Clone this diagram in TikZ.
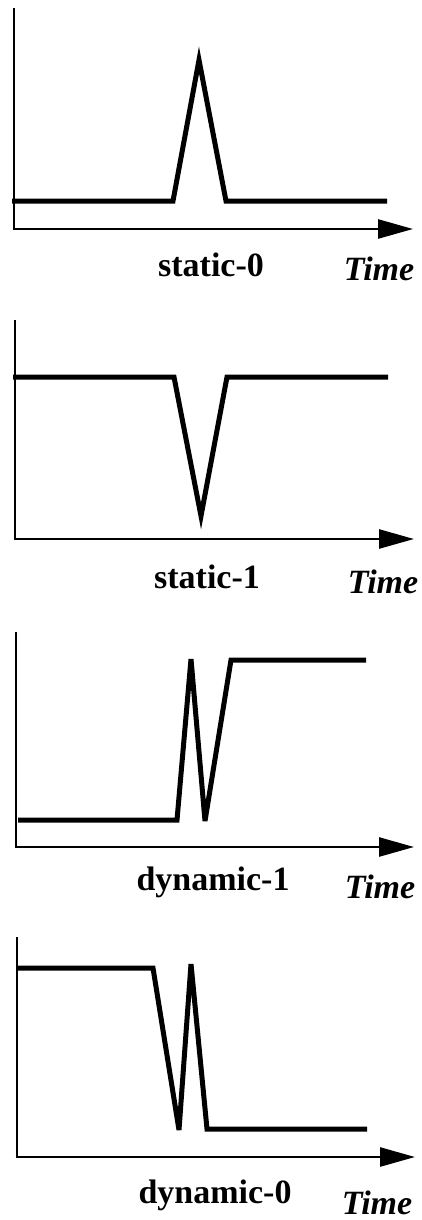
\documentclass[tikz,border=0pt]{standalone}
\usepackage{fontspec}
\setmainfont{Liberation Serif}
\usetikzlibrary{arrows.meta}
\begin{document}
\begin{tikzpicture}[x=1pt,y=-1pt,
  axis/.style={line width=2.6pt,-{Triangle[length=35pt,width=19pt]}},
  yaxis/.style={line width=2.6pt},
  signal/.style={line width=5pt,line join=miter,miter limit=6},
  lbl/.style={font=\fontsize{34}{40}\selectfont\bfseries,anchor=base,inner sep=0pt},
  tlbl/.style={font=\fontsize{34}{40}\selectfont\bfseries\itshape,anchor=base,inner sep=0pt}]
\useasboundingbox (0,0) rectangle (421,1220);
% panel 1
\coordinate (o1) at (14,229);
\coordinate (t1) at (14,8);
\coordinate (e1) at (413,229);
\draw[yaxis] (t1) -- (o1);
\draw[axis] ([xshift=-1.3pt]o1) -- (e1);
\draw[signal] (12,201) -- (173,201) -- (199,60) -- (226,201) -- (387,201);
\node[lbl] (l1) at (211,276) {static-0};
\node[tlbl] (time1) at (379,280) {Time};
% panel 2
\coordinate (o2) at (15,539);
\coordinate (t2) at (15,320);
\coordinate (e2) at (414,539);
\draw[yaxis] (t2) -- (o2);
\draw[axis] ([xshift=-1.3pt]o2) -- (e2);
\draw[signal] (13,377) -- (174,377) -- (201,516) -- (227,377) -- (388,377);
\node[lbl] (l2) at (207,588) {static-1};
\node[tlbl] (time2) at (383,593) {Time};
% panel 3
\coordinate (o3) at (16,847);
\coordinate (t3) at (16,632);
\coordinate (e3) at (414,847);
\draw[yaxis] (t3) -- (o3);
\draw[axis] ([xshift=-1.3pt]o3) -- (e3);
\draw[signal] (18,820) -- (177,820) -- (191,659) -- (205,821) -- (231,660) -- (366,660);
\node[lbl] (l3) at (213,890) {dynamic-1};
\node[tlbl] (time3) at (380,898) {Time};
% panel 4
\coordinate (o4) at (17,1157);
\coordinate (t4) at (17,937);
\coordinate (e4) at (415,1157);
\draw[yaxis] (t4) -- (o4);
\draw[axis] ([xshift=-1.3pt]o4) -- (e4);
\draw[signal] (17,968) -- (153,968) -- (179,1130) -- (191,964) -- (207,1129) -- (367,1129);
\node[lbl] (l4) at (215,1203) {dynamic-0};
\node[tlbl] (time4) at (377,1214) {Time};
\end{tikzpicture}
\end{document}
